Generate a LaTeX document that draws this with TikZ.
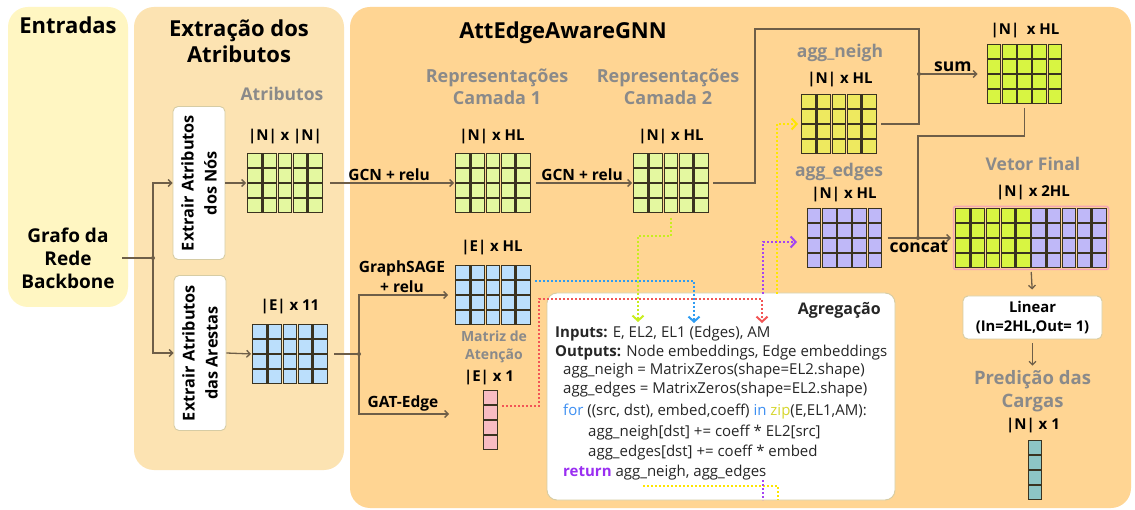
\documentclass[tikz,border=0pt]{standalone}
\usepackage{fontspec}
\setmainfont{Open Sans}
\usetikzlibrary{arrows.meta,calc}
\definecolor{bgIn}{HTML}{FFF6C2}
\definecolor{bgEx}{HTML}{FCE3B2}
\definecolor{bgG}{HTML}{FFD593}
\definecolor{limeP}{HTML}{E4F8A0}
\definecolor{blueP}{HTML}{BBDFFC}
\definecolor{yelC}{HTML}{EEE95F}
\definecolor{limeS}{HTML}{D8F542}
\definecolor{purC}{HTML}{BFB8F8}
\definecolor{pinkC}{HTML}{F8BCC2}
\definecolor{tealC}{HTML}{8DC5C5}
\definecolor{cellB}{HTML}{3A3320}
\definecolor{lineC}{HTML}{6E5E48}
\definecolor{grayT}{HTML}{8A8A8A}
\definecolor{boxB}{HTML}{D6CCA4}
\definecolor{frameP}{HTML}{F4A5B5}
\definecolor{dLime}{HTML}{C8EE1E}
\definecolor{dBlue}{HTML}{2E9CF2}
\definecolor{dRed}{HTML}{F25555}
\definecolor{dYel}{HTML}{FFE600}
\definecolor{dPur}{HTML}{A445F2}
\definecolor{kwBlue}{HTML}{3D8FF2}
\definecolor{kwYel}{HTML}{D6D62E}
\definecolor{kwPur}{HTML}{9A2EF2}
\definecolor{codeT}{HTML}{262626}
\newcommand\fsz[2]{\fontsize{#1}{#2}\selectfont}
\newcommand\cells[5]{\foreach \ci in {#2,...,#3}{\foreach \cj in {1,...,#4}{\draw[cell,fill=#5] ($(#1.north west)+({(\ci-1)*15.2+0.8},{(\cj-1)*15+0.8})$) rectangle +(13.6,13.4);}}}
\begin{document}
\begin{tikzpicture}[x=1pt,y=-1pt,
  box/.style={draw=boxB, line width=0.9pt, fill=white, rounded corners=5pt},
  head/.style={font=\bfseries\fsz{22}{26}, align=center},
  grayl/.style={font=\bfseries\fsz{17.5}{22}, text=grayT, align=center},
  dim/.style={font=\bfseries\fsz{15}{18}, text=black},
  lbl/.style={font=\bfseries\fsz{15.5}{20}, align=center, inner sep=2pt},
  big/.style={font=\bfseries\fsz{17.5}{20}, inner sep=2pt},
  rot/.style={rotate=90, font=\bfseries\fsz{16.3}{23}, align=center},
  mat/.style 2 args={minimum width={#1*15.2pt}, minimum height={#2*15pt}, inner sep=0pt, outer sep=0pt},
  cell/.style={draw=cellB, line width=1.1pt},
  ln/.style={draw=lineC, line width=1.3pt},
  arr/.style={ln, -{Straight Barb[length=3.5pt,width=7pt]}},
  dots/.style={line width=2pt, dash pattern=on 2pt off 2pt},
  dtip/.style={-{Straight Barb[length=5pt,width=11pt,line width=2pt]}},
  code/.style={font=\fsz{15}{18}, text=codeT, anchor=base west, inner sep=0pt}]
\useasboundingbox (0,0) rectangle (1135,510);
\fill[white] (0,0) rectangle (1135,510);
\fill[bgIn, rounded corners=20pt] (8,7) rectangle (128,307);
\fill[bgEx, rounded corners=20pt] (134,7) rectangle (344,470);
\fill[bgG, rounded corners=20pt] (350,7) rectangle (1131,508);
% titles
\node[head] (tIn) at (68,25) {Entradas};
\node[head] (tEx) at (239,41) {Extração dos\\Atributos};
\node[head] (tG) at (563,33) {AttEdgeAwareGNN};
\node[font=\bfseries\fsz{19}{23}, align=center, minimum width=108pt, inner sep=0pt] (grafo) at (68,258) {Grafo da\\Rede\\Backbone};
% extraction
\node[grayl] (tAtr) at (282,94) {Atributos};
\node[box, minimum width=52pt, minimum height=153pt] (bNodes) at (199,183) {};
\node[rot] (tNodes) at (bNodes) {Extrair Atributos\\dos Nós};
\node[box, minimum width=52pt, minimum height=155pt] (bEdges) at (200,353) {};
\node[rot] (tEdges) at (bEdges) {Extrair Atributos\\das Arestas};
\node[mat={5}{4}] (mNN) at (285,183) {}; \cells{mNN}{1}{5}{4}{limeP}
\node[dim] (dNN) at (285,137) {|N| x |N|};
\node[mat={5}{4}] (mE11) at (290,354) {}; \cells{mE11}{1}{5}{4}{blueP}
\node[dim] (dE11) at (290,307) {|E| x 11};
\coordinate (j1) at (153,258);
\draw[ln] (grafo.east) -- (j1);
\fill[lineC] (j1) circle (2pt);
\draw[arr] (j1) |- (bNodes.west);
\draw[arr] (j1) |- (bEdges.west);
\draw[arr, shorten >=1pt] (bNodes.east) -- (mNN.west);
\draw[arr, shorten >=1pt] (bEdges.east) -- (mE11.west);
% GNN layers
\node[grayl, font=\bfseries\fsz{18}{22}] (tR1) at (497,87) {Representações\\Camada 1};
\node[grayl, font=\bfseries\fsz{18}{22}] (tR2) at (668,87) {Representações\\Camada 2};
\node[mat={5}{4}] (mL1) at (493,183) {}; \cells{mL1}{1}{5}{4}{limeP}
\node[dim] (dL1) at (492,137) {|N| x HL};
\node[mat={5}{4}] (mL2) at (671,183) {}; \cells{mL2}{1}{5}{4}{limeP}
\node[dim] (dL2) at (671,137) {|N| x HL};
\draw[arr, shorten <=7pt, shorten >=1pt] (mNN.east) -- node[lbl, above] (gcn1) {GCN + relu} (mL1.west);
\draw[arr, shorten <=5pt, shorten >=1pt] (mL1.east) -- node[lbl, above] (gcn2) {GCN + relu} (mL2.west);
% edges
\node[mat={5}{4}] (mSage) at (493,295) {}; \cells{mSage}{1}{5}{4}{blueP}
\node[dim] (dSage) at (492,248) {|E| x HL};
\node[font=\bfseries\fsz{14}{18}, text=grayT, align=center] (tAtt) at (494,347) {Matriz de\\Atenção};
\node[dim] (dAtt) at (489,378) {|E| x 1};
\node[mat={1}{4}] (mAtt) at (490.5,420) {}; \cells{mAtt}{1}{1}{4}{pinkC}
\coordinate (jE) at (359,354);
\draw[ln, shorten <=6pt] (mE11.east) -- (jE);
\fill[lineC] (jE) circle (2pt);
\draw[arr, shorten >=7pt] (jE) |- (mSage.west);
\node[lbl] (lSage) at (402,277) {GraphSAGE\\+ relu};
\coordinate (gatEnd) at (449,414);
\draw[arr] (jE) |- (gatEnd);
\node[lbl] (lGat) at (403,403) {GAT-Edge};
% code box
\node[box, rounded corners=10pt, minimum width=348pt, minimum height=207pt] (code) at (721,396.5) {};
\node[code, font=\bfseries\fsz{16}{18}, anchor=base east] (cT) at (881,315) {Agregação};
\node[code] (c1) at (555,338) {\textbf{Inputs:} E, EL2, EL1 (Edges), AM};
\node[code] (c2) at (555,357) {\textbf{Outputs:} Node embeddings, Edge embeddings};
\node[code] (c3) at (563,375) {agg\_neigh = MatrixZeros(shape=EL2.shape)};
\node[code] (c4) at (563,394) {agg\_edges = MatrixZeros(shape=EL2.shape)};
\node[code] (c5) at (563,415) {\textcolor{kwBlue}{for} ((src, dst), embed,coeff) \textcolor{kwBlue}{in} \textcolor{kwYel}{zip}(E,EL1,AM):};
\node[code] (c6) at (588,436) {agg\_neigh[dst] += coeff * EL2[src]};
\node[code] (c7) at (588,456) {agg\_edges[dst] += coeff * embed};
\node[code] (c8) at (563,476) {\textcolor{kwPur}{\textbf{return}} agg\_neigh, agg\_edges};
% aggregation outputs
\node[grayl] (tNeigh) at (840,53) {agg\_neigh};
\node[dim] (dNeigh) at (840,80) {|N| x HL};
\node[mat={5}{4}] (mNeigh) at (839,124) {}; \cells{mNeigh}{1}{5}{4}{yelC}
\node[grayl] (tEdg) at (839,172) {agg\_edges};
\node[dim] (dEdg) at (844,195) {|N| x HL};
\node[mat={5}{4}] (mEdges) at (844.5,238) {}; \cells{mEdges}{1}{5}{4}{purC}
\node[dim] (dSum) at (1025,31) {|N|\enspace x HL};
\node[mat={5}{4}] (mSum) at (1024.5,74) {}; \cells{mSum}{1}{5}{4}{limeS}
\coordinate (jS) at (919,74);
\draw[ln, shorten <=4pt] (mL2.east) -| (755,29) -| (jS);
\draw[ln, shorten <=4pt] (mNeigh.east) -| (jS);
\fill[lineC] (jS) circle (2pt);
\draw[arr, shorten >=9pt] (jS) -- node[big, above] (lSum) {sum} (mSum.west);
% final vector
\node[grayl] (tVF) at (1033,164) {Vetor Final};
\node[dim] (dVF) at (1033,193) {|N| x 2HL};
\node[mat={10}{4}] (mCat) at (1031,238) {};
\draw[frameP, line width=1.5pt, rounded corners=2pt] ($(mCat.north west)+(-1.5,-1.5)$) rectangle ($(mCat.south east)+(1.5,1.5)$);
\cells{mCat}{1}{5}{4}{limeS}
\cells{mCat}{6}{10}{4}{purC}
\coordinate (jC) at (918,238);
\draw[ln, shorten <=4pt] (mSum.south) -- ++(0,32) -| (jC);
\draw[arr, shorten <=5pt, shorten >=4pt] (mEdges.east) -- node[big, below] (lCat) {concat} (mCat.west);
\fill[lineC] (jC) circle (2pt);
\node[box, minimum width=139pt, minimum height=43pt, align=center, font=\bfseries\fsz{14.8}{19}] (lin) at (1032.5,317.5) {Linear\\(In=2HL,Out= 1)};
\draw[arr, shorten <=4pt, shorten >=6pt] (mCat.south) -- (lin.north);
\node[grayl, font=\bfseries\fsz{18.5}{23}] (pred) at (1032.5,391) {Predição das\\Cargas};
\draw[arr, shorten <=4pt, shorten >=1pt] (lin.south) -- (pred.north);
\node[dim] (dOut) at (1033,426) {|N| x 1};
\node[mat={1}{4}] (mOut) at (1035,470) {}; \cells{mOut}{1}{1}{4}{tealC}
% dotted connectors
\coordinate (bS) at (535,281); \coordinate (bE) at (694,323);
\draw[dBlue, dots, dtip] (bS) -| (bE);
\coordinate (rS) at (502,406); \coordinate (rE) at (762,323);
\draw[dRed, dots, dtip] (rS) -- (539,406) -- (539,299) -| (rE);
\coordinate (lE) at (638,322);
\draw[dLime, dots, dtip, shorten <=5pt] (mL2.south) |- (638,236) -- (lE);
\coordinate (yA) at (643,486); \coordinate (yB) at (778,500);
\draw[dYel, dots] (yA) -| (yB);
\coordinate (yC) at (777,294);
\draw[dYel, dots, dtip, shorten >=3pt] (yC) |- (mNeigh.west);
\coordinate (pA) at (763,480); \coordinate (pB) at (763,500);
\draw[dPur, dots] (pA) -- (pB);
\coordinate (pC) at (763,294); \coordinate (pE) at (797,242);
\draw[dPur, dots, dtip] (pC) |- (pE);
\end{tikzpicture}
\end{document}
